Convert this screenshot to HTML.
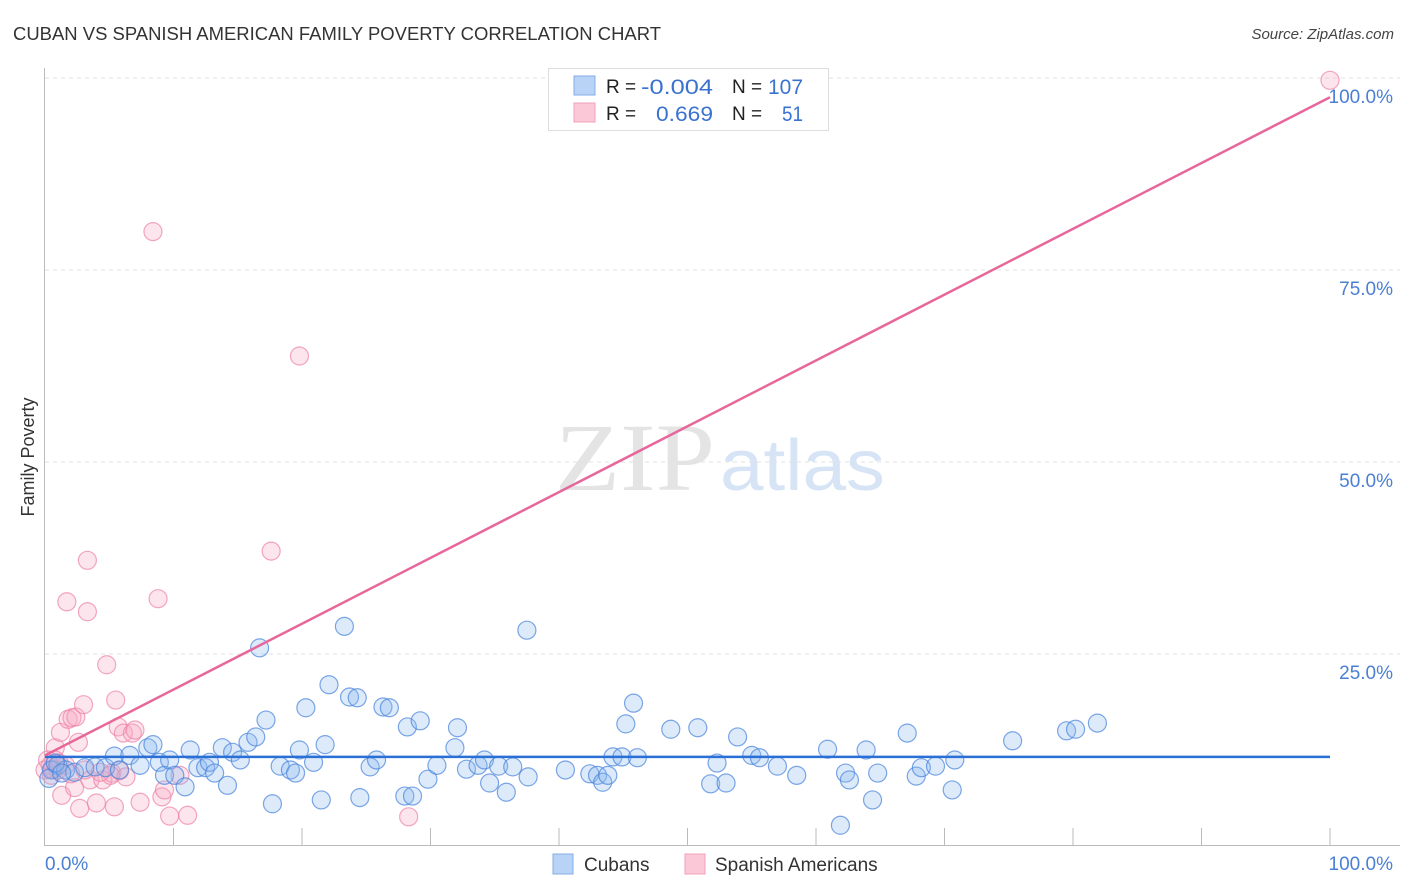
<!DOCTYPE html>
<html><head><meta charset="utf-8"><style>
body{margin:0;background:#fff;font-family:"Liberation Sans",sans-serif}
svg{display:block}
</style></head><body>
<svg width="1406" height="892">
<text x="13" y="40" font-size="18" fill="#333" textLength="648" lengthAdjust="spacingAndGlyphs">CUBAN VS SPANISH AMERICAN FAMILY POVERTY CORRELATION CHART</text>
<text x="1394" y="39" font-size="15" fill="#444" font-style="italic" text-anchor="end">Source: ZipAtlas.com</text>
<text x="34" y="457" font-size="18" fill="#333" transform="rotate(-90 34 457)" text-anchor="middle">Family Poverty</text>
<text x="555" y="490" font-size="96" fill="#e4e4e4" font-family="Liberation Serif,serif" textLength="160" lengthAdjust="spacingAndGlyphs">ZIP</text>
<text x="720" y="490" font-size="72" fill="#d6e4f6" textLength="165" lengthAdjust="spacingAndGlyphs">atlas</text>
<g id="grid"></g>
<g id="axes"></g>
<g id="pts"></g>
<g id="lines"></g>
<g>
<rect x="548.5" y="68.5" width="280" height="62" fill="#fff" stroke="#ddd"/>
<rect x="574" y="76" width="21" height="19" fill="#b8d3f6" stroke="#85aee8"/>
<rect x="574" y="103" width="21" height="19" fill="#fbc8d8" stroke="#f0a0b8"/>
<text x="606" y="93" font-size="19" fill="#222">R =</text>
<text x="641" y="94" font-size="21" fill="#3a72d0" textLength="72" lengthAdjust="spacingAndGlyphs">-0.004</text>
<text x="732" y="93" font-size="19" fill="#222">N =</text>
<text x="768" y="94" font-size="21" fill="#3a72d0" textLength="35" lengthAdjust="spacingAndGlyphs">107</text>
<text x="606" y="120" font-size="19" fill="#222">R =</text>
<text x="656" y="121" font-size="21" fill="#3a72d0" textLength="57" lengthAdjust="spacingAndGlyphs">0.669</text>
<text x="732" y="120" font-size="19" fill="#222">N =</text>
<text x="782" y="121" font-size="21" fill="#3a72d0" textLength="21" lengthAdjust="spacingAndGlyphs">51</text>
</g>
<g>
<rect x="553" y="854" width="20" height="20" fill="#b8d3f6" stroke="#85aee8"/>
<text x="584" y="871" font-size="19" fill="#333">Cubans</text>
<rect x="685" y="854" width="20" height="20" fill="#fbc8d8" stroke="#f0a0b8"/>
<text x="715" y="871" font-size="19" fill="#333">Spanish Americans</text>
</g>
</svg>
<script>
const cubanX=[0.5,1.0,1.6,2.3,3.1,3.9,4.7,5.4,5.8,6.6,7.4,8.0,8.4,8.9,9.3,9.7,10.1,10.9,11.3,11.9,12.5,12.8,13.2,14.2,13.8,14.6,15.2,15.8,16.4,16.7,17.2,17.7,18.3,19.1,19.5,19.8,20.3,20.9,21.5,21.8,22.1,23.3,23.7,24.3,24.5,25.3,25.8,26.3,26.8,28.0,28.2,28.6,29.2,29.8,30.5,31.9,32.1,32.8,33.7,34.2,34.6,35.3,35.9,36.4,37.5,37.6,40.5,42.4,43.0,43.4,43.8,44.2,44.9,45.2,45.8,46.1,48.7,50.8,51.8,52.3,53.0,53.9,55.0,55.6,57.0,58.5,60.9,62.3,62.6,61.9,63.9,64.4,64.8,67.1,67.8,68.2,69.3,70.6,70.8,75.3,79.5,80.2,81.9,0.3,0.8,1.3];
const cubanY=[9.9,10.5,9.9,9.6,10.2,10.3,10.2,11.7,9.9,11.8,10.5,12.8,13.2,10.9,9.2,11.2,9.2,7.7,12.5,10.2,10.2,10.9,9.5,7.9,12.8,12.2,11.2,13.5,14.2,25.8,16.4,5.5,10.4,9.9,9.5,12.5,18.0,10.9,6.0,13.2,21.0,28.6,19.4,19.3,6.3,10.3,11.2,18.1,18.0,6.5,15.5,6.5,16.3,8.7,10.5,12.8,15.4,10.0,10.5,11.2,8.2,10.4,7.0,10.3,28.1,9.0,9.9,9.4,9.2,8.3,9.2,11.6,11.6,15.9,18.6,11.5,15.2,15.4,8.1,10.8,8.2,14.2,11.8,11.5,10.4,9.2,12.6,9.5,8.6,2.7,12.5,6.0,9.5,14.7,9.1,10.2,10.4,7.3,11.2,13.7,15.0,15.2,16.0,8.8,10.8,9.5];
const spanX=[0.4,0.5,0.8,1.0,1.2,1.3,1.7,1.8,2.1,2.3,2.4,2.6,2.7,3.0,3.3,3.3,3.5,4.0,4.5,4.8,5.2,5.4,5.5,5.7,5.8,6.1,6.8,7.0,7.4,8.4,8.8,9.1,9.3,9.7,10.5,11.1,17.6,19.8,28.3,100,0.2,0,0.8,1.6,3.1,5.1,4.3,0.6,1.1,2.0,6.3];
const spanY=[10.5,9.2,12.8,9.9,14.8,6.6,31.8,16.5,16.7,7.6,16.8,13.5,4.9,18.4,30.5,37.2,8.6,5.6,8.6,23.6,9.5,5.1,19.0,15.5,9.8,14.7,14.7,15.1,5.7,80.0,32.2,6.4,7.3,3.9,9.2,4.0,38.4,63.8,3.8,99.7,11.2,9.9,11.2,10.5,9.9,9.2,9.6,10.0,10.8,9.4,9.0];
const cubanFit=[11.6,11.6];
const spanFit=[11.8,97.5];
const xTicks=[0,10,20,30,40,50,60,70,80,90,100];
const yTicks=[25,50,75,100];
const yTickLabels=["25.0%","50.0%","75.0%","100.0%"];
const X=v=>45+v*12.85, Y=v=>846-v*7.68;
const NS="http://www.w3.org/2000/svg";
function mk(tag,attrs,parent){const e=document.createElementNS(NS,tag);for(const k in attrs)e.setAttribute(k,attrs[k]);document.getElementById(parent).appendChild(e);return e;}
yTicks.forEach((t,i)=>{
 const l=mk('line',{x1:45,x2:1400,y1:Y(t),y2:Y(t),stroke:'#e2e2e2','stroke-dasharray':'4 4'},'grid');
 
 
 const tx=mk('text',{x:1393,y:Y(t)+25,'font-size':19,fill:'#4a7fd4','text-anchor':'end'},'grid');
 tx.textContent=yTickLabels[i];
 
 
});
const ax=mk('line',{x1:45,x2:1400,y1:845.5,y2:845.5,stroke:'#bbb'},'axes');


const ay=mk('line',{x1:44.5,x2:44.5,y1:68,y2:846,stroke:'#bbb'},'axes');


xTicks.slice(1).forEach(t=>{
 const l=mk('line',{x1:X(t),x2:X(t),y1:828,y2:846,stroke:'#bbb'},'axes');
 
 
});
const x0=mk('text',{x:45,y:870,'font-size':19,fill:'#4a7fd4'},'axes');x0.textContent='0.0%';


const x1=mk('text',{x:1393,y:870,'font-size':19,fill:'#4a7fd4','text-anchor':'end'},'axes');x1.textContent='100.0%';


spanX.forEach((v,i)=>{
 const c=mk('circle',{cx:X(v),cy:Y(spanY[i]),r:9,fill:'rgba(248,170,195,0.3)',stroke:'rgba(236,130,165,0.7)','stroke-width':1.2},'pts');
 
 
});
cubanX.forEach((v,i)=>{
 const c=mk('circle',{cx:X(v),cy:Y(cubanY[i]),r:9,fill:'rgba(140,185,240,0.3)',stroke:'rgba(70,130,220,0.7)','stroke-width':1.2},'pts');
 
 
});
const cl=mk('line',{x1:X(0),x2:X(100),y1:Y(cubanFit[0]),y2:Y(cubanFit[1]),stroke:'#2a6fd6','stroke-width':2.5},'lines');


const sl=mk('line',{x1:X(0),x2:X(100),y1:Y(spanFit[0]),y2:Y(spanFit[1]),stroke:'#e8679a','stroke-width':2.5},'lines');


</script>
</body></html>
